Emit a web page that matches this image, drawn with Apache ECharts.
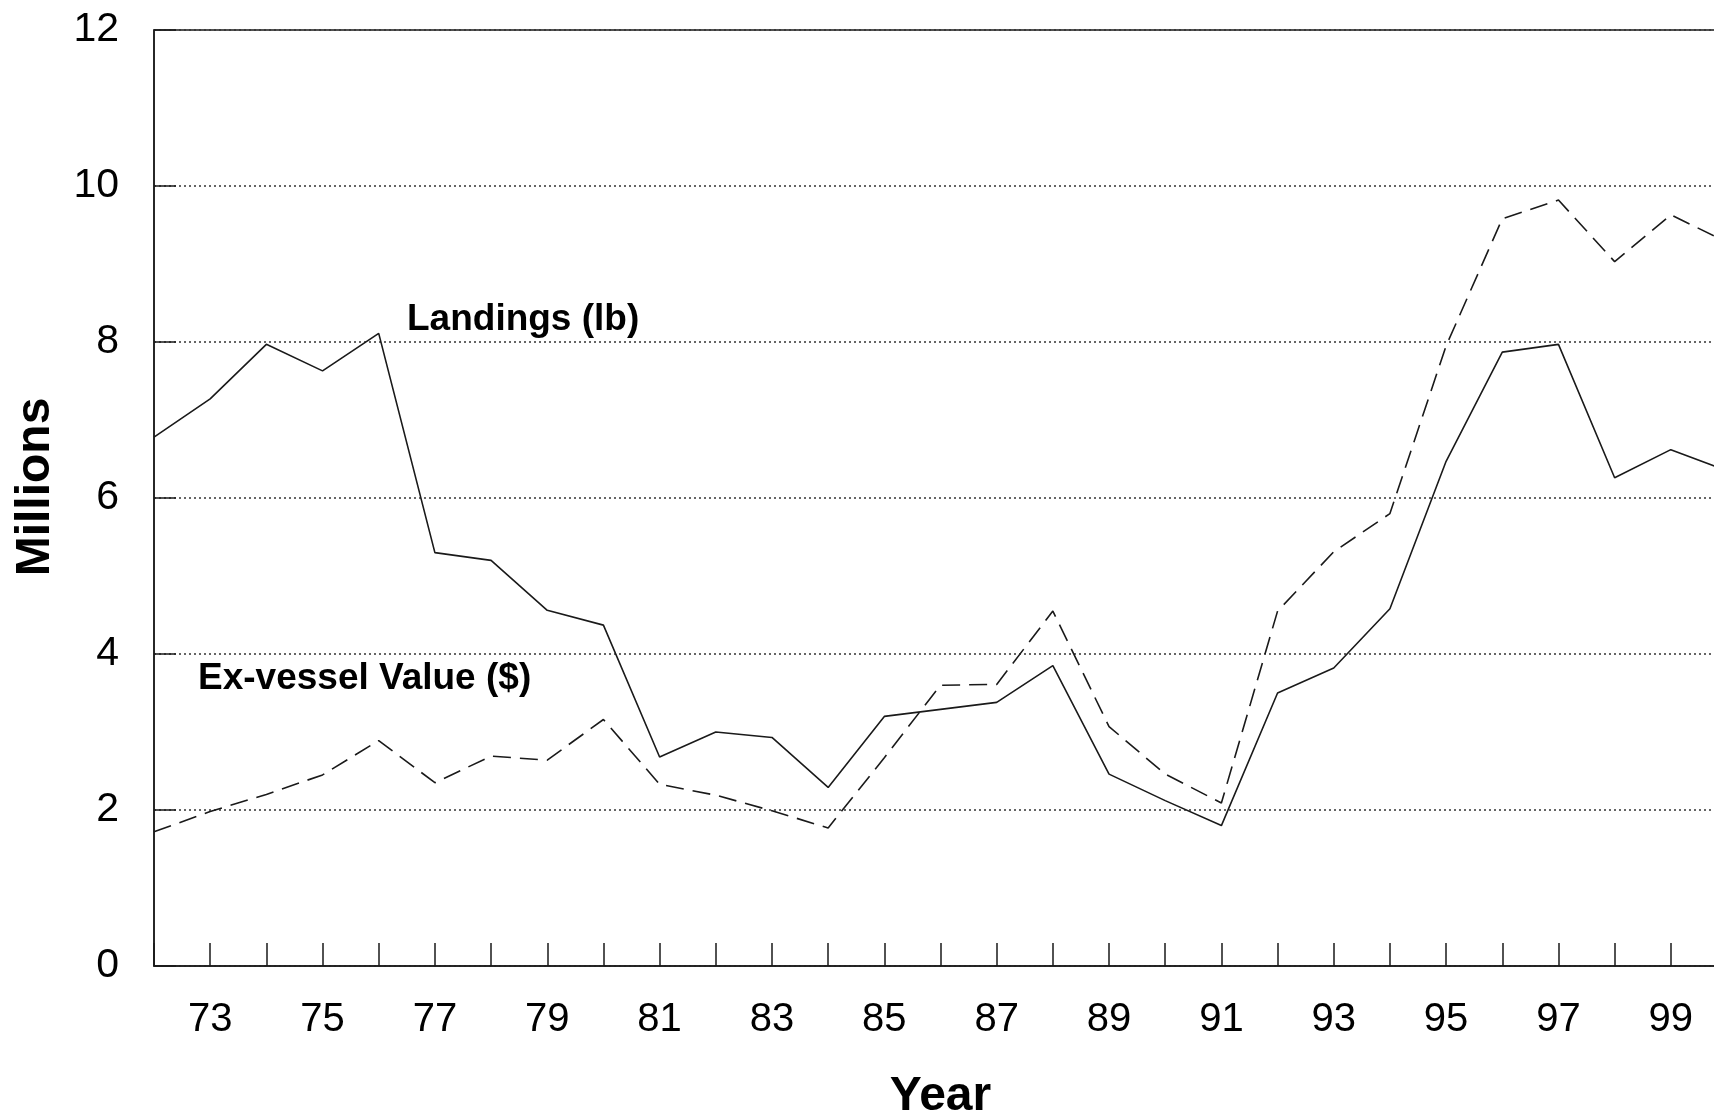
<!DOCTYPE html>
<html>
<head>
<meta charset="utf-8">
<script src="https://cdn.jsdelivr.net/npm/echarts@6.0.0/dist/echarts.min.js"></script>
<style>
html, body { margin:0; padding:0; background:#fff; }
#view1 { width:1714px; height:1114px; }
</style>
</head>
<body>
<div id="view1"></div>
<script>
"use strict";
// years on the x axis, values in millions
var years = [1972, 1973, 1974, 1975, 1976, 1977, 1978, 1979, 1980, 1981, 1982, 1983, 1984, 1985,
	1986, 1987, 1988, 1989, 1990, 1991, 1992, 1993, 1994, 1995, 1996, 1997, 1998, 1999, 2000];
var landings = [6.78, 7.27, 7.97, 7.63, 8.11, 5.30, 5.20, 4.56, 4.37, 2.68, 3.00, 2.93, 2.29, 3.20,
	3.29, 3.38, 3.85, 2.46, 2.12, 1.80, 3.50, 3.82, 4.58, 6.47, 7.87, 7.97, 6.26, 6.62, 6.35];
var exvessel = [1.72, 1.98, 2.20, 2.45, 2.89, 2.35, 2.69, 2.64, 3.16, 2.33, 2.19, 1.99, 1.77, 2.67,
	3.60, 3.61, 4.55, 3.07, 2.46, 2.09, 4.55, 5.31, 5.80, 7.95, 9.58, 9.82, 9.03, 9.63, 9.28];
var yTicks = [0, 2, 4, 6, 8, 10, 12];

var font = 'Arial, "Liberation Sans", sans-serif';
var ink = '#1a1a1a';

function pairs(vals){
	return years.map(function(y, i){ return [y, vals[i]]; });
}

var option = {
	backgroundColor: '#fff',
	animation: false,
	grid: { left: 154, top: 30, bottom: 148, right: -13, outerBoundsMode: 'none',
		show: true, borderColor: ink, borderWidth: 1.5 },
	xAxis: {
		type: 'value', min: 1972, max: 2000, interval: 1,
		name: 'Year', nameLocation: 'middle', nameGap: 107,
		nameTextStyle: { fontFamily: font, fontWeight: 'bold', fontSize: 48, color: '#000' },
		axisLine: { show: true, lineStyle: { color: ink, width: 1.5 } },
		axisTick: { show: true, inside: true, length: 23, lineStyle: { color: ink, width: 1.5 } },
		axisLabel: { fontFamily: font, fontSize: 40, color: '#000', margin: 34,
			formatter: function(v){ return (v % 2 == 1) ? String(v).slice(2) : ''; } },
		splitLine: { show: false }
	},
	yAxis: {
		type: 'value', min: yTicks[0], max: yTicks[yTicks.length - 1], interval: 2,
		name: 'Millions', nameLocation: 'middle', nameGap: 94, nameRotate: 90,
		nameTextStyle: { fontFamily: font, fontWeight: 'bold', fontSize: 48, color: '#000', padding: [0, 0, 0, 22] },
		axisLine: { show: true, lineStyle: { color: ink, width: 1.5 } },
		axisTick: { show: true, inside: true, length: 22, lineStyle: { color: ink, width: 1.5 } },
		axisLabel: { fontFamily: font, fontSize: 41, color: '#000', margin: 35 },
		splitLine: { show: true, lineStyle: { color: '#333', width: 1.5, type: [2, 3] } }
	},
	graphic: [
		{ type: 'text', x: 407, y: 320, style: { text: 'Landings (lb)', font: 'bold 37px ' + font, fill: '#000', verticalAlign: 'middle' } },
		{ type: 'text', x: 198, y: 679, style: { text: 'Ex-vessel Value ($)', font: 'bold 37px ' + font, fill: '#000', verticalAlign: 'middle' } }
	],
	series: [
		{ name: 'Landings (lb)', type: 'line', data: pairs(landings), symbol: 'none', clip: true,
			lineStyle: { color: ink, width: 1.6 } },
		{ name: 'Ex-vessel Value ($)', type: 'line', data: pairs(exvessel), symbol: 'none', clip: true,
			lineStyle: { color: ink, width: 1.6, type: [18, 9] } }
	]
};

var myChart = echarts.init(document.getElementById('view1'));
myChart.setOption(option);
</script>
</body>
</html>
